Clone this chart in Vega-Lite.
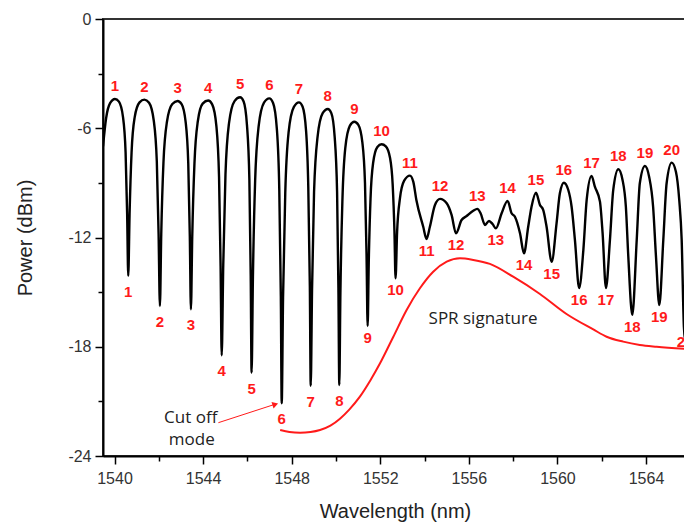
{
  "$schema": "https://vega.github.io/schema/vega-lite/v6.json",
  "width": 582,
  "height": 437,
  "autosize": "none",
  "padding": {"left": 103, "top": 19, "right": 0, "bottom": 67},
  "background": "white",
  "config": {"view": {"stroke": "#333", "strokeWidth": 2}},
  "datasets": {
    "spectrum": [
      {"w":1539.48,"p":-7.0},{"w":1539.62,"p":-5.45},{"w":1539.80,"p":-4.62},{"w":1540.02,"p":-4.39},
      {"w":1540.20,"p":-4.54},{"w":1540.38,"p":-5.36},{"w":1540.50,"p":-7.31},{"w":1540.57,"p":-10.71},{"w":1540.62,"p":-14.11},
      {"w":1540.68,"p":-10.72},{"w":1540.77,"p":-7.33},{"w":1540.91,"p":-5.40},{"w":1541.13,"p":-4.58},{"w":1541.35,"p":-4.43},
      {"w":1541.56,"p":-4.60},{"w":1541.77,"p":-5.56},{"w":1541.91,"p":-7.83},{"w":1541.99,"p":-11.79},{"w":1542.05,"p":-15.76},
      {"w":1542.11,"p":-11.82},{"w":1542.21,"p":-7.88},{"w":1542.37,"p":-5.63},{"w":1542.61,"p":-4.67},{"w":1542.85,"p":-4.5},
      {"w":1543.03,"p":-4.67},{"w":1543.21,"p":-5.64},{"w":1543.33,"p":-7.93},{"w":1543.40,"p":-11.94},{"w":1543.45,"p":-15.94},
      {"w":1543.51,"p":-11.93},{"w":1543.61,"p":-7.92},{"w":1543.76,"p":-5.63},{"w":1543.98,"p":-4.65},{"w":1544.23,"p":-4.48},
      {"w":1544.41,"p":-4.69},{"w":1544.60,"p":-5.88},{"w":1544.72,"p":-8.68},{"w":1544.79,"p":-13.57},{"w":1544.84,"p":-18.47},
      {"w":1544.91,"p":-13.51},{"w":1545.01,"p":-8.55},{"w":1545.17,"p":-5.72},{"w":1545.42,"p":-4.51},{"w":1545.67,"p":-4.30},
      {"w":1545.83,"p":-4.53},{"w":1545.98,"p":-5.81},{"w":1546.09,"p":-8.84},{"w":1546.15,"p":-14.13},{"w":1546.19,"p":-19.42},
      {"w":1546.25,"p":-14.15},{"w":1546.35,"p":-8.88},{"w":1546.51,"p":-5.87},{"w":1546.75,"p":-4.59},{"w":1546.99,"p":-4.36},
      {"w":1547.16,"p":-4.61},{"w":1547.33,"p":-6.03},{"w":1547.44,"p":-9.38},{"w":1547.51,"p":-15.24},{"w":1547.55,"p":-21.1},
      {"w":1547.61,"p":-15.32},{"w":1547.71,"p":-9.54},{"w":1547.86,"p":-6.23},{"w":1548.10,"p":-4.83},{"w":1548.33,"p":-4.58},
      {"w":1548.49,"p":-4.81},{"w":1548.65,"p":-6.14},{"w":1548.75,"p":-9.25},{"w":1548.82,"p":-14.69},{"w":1548.86,"p":-20.14},
      {"w":1548.92,"p":-14.82},{"w":1549.01,"p":-9.50},{"w":1549.17,"p":-6.46},{"w":1549.40,"p":-5.17},{"w":1549.63,"p":-4.94},
      {"w":1549.79,"p":-5.17},{"w":1549.94,"p":-6.46},{"w":1550.05,"p":-9.49},{"w":1550.11,"p":-14.79},{"w":1550.15,"p":-20.1},
      {"w":1550.20,"p":-15.04},{"w":1550.29,"p":-9.98},{"w":1550.42,"p":-7.09},{"w":1550.63,"p":-5.86},{"w":1550.83,"p":-5.64},
      {"w":1551.01,"p":-5.81},{"w":1551.19,"p":-6.76},{"w":1551.31,"p":-9.01},{"w":1551.38,"p":-12.93},{"w":1551.43,"p":-16.86},
      {"w":1551.48,"p":-13.37},{"w":1551.56,"p":-9.87},{"w":1551.68,"p":-7.88},{"w":1551.87,"p":-7.03},{"w":1552.06,"p":-6.88},
      {"w":1552.25,"p":-6.99},{"w":1552.44,"p":-7.62},{"w":1552.56,"p":-9.09},{"w":1552.64,"p":-11.66},{"w":1552.69,"p":-14.24},
      {"w":1552.76,"p":-11.70},{"w":1552.89,"p":-9.84},{"w":1553.08,"p":-8.88},{"w":1553.34,"p":-8.6},
      {"w":1553.49,"p":-8.93},{"w":1553.63,"p":-9.94},{"w":1553.94,"p":-11.41},{"w":1554.09,"p":-12.08},
      {"w":1554.24,"p":-11.41},{"w":1554.47,"p":-10.21},{"w":1554.70,"p":-9.88},
      {"w":1555.00,"p":-10.12},{"w":1555.22,"p":-10.76},{"w":1555.42,"p":-11.77},
      {"w":1555.67,"p":-11.04},{"w":1555.90,"p":-10.82},{"w":1556.20,"p":-10.53},{"w":1556.38,"p":-10.43},
      {"w":1556.53,"p":-10.67},{"w":1556.73,"p":-11.31},{"w":1556.91,"p":-11.09},{"w":1557.07,"p":-11.26},{"w":1557.22,"p":-11.5},
      {"w":1557.48,"p":-10.67},{"w":1557.75,"p":-9.99},{"w":1557.93,"p":-10.67},{"w":1558.08,"p":-10.86},{"w":1558.31,"p":-11.77},{"w":1558.49,"p":-12.87},
      {"w":1558.68,"p":-11.41},{"w":1558.83,"p":-10.31},{"w":1559.03,"p":-9.54},{"w":1559.21,"p":-10.21},{"w":1559.36,"p":-10.49},{"w":1559.51,"p":-11.41},{"w":1559.74,"p":-13.33},
      {"w":1559.96,"p":-11.22},{"w":1560.11,"p":-9.57},{"w":1560.29,"p":-8.99},{"w":1560.49,"p":-9.39},{"w":1560.64,"p":-10.31},{"w":1560.79,"p":-12.14},{"w":1560.98,"p":-14.77},
      {"w":1561.17,"p":-12.69},{"w":1561.32,"p":-9.94},{"w":1561.54,"p":-8.62},{"w":1561.69,"p":-9.21},{"w":1561.92,"p":-10.03},{"w":1562.04,"p":-11.77},{"w":1562.19,"p":-14.77},
      {"w":1562.37,"p":-12.14},{"w":1562.52,"p":-9.39},{"w":1562.75,"p":-8.25},{"w":1562.94,"p":-8.84},{"w":1563.09,"p":-10.31},{"w":1563.20,"p":-13.05},{"w":1563.38,"p":-16.25},
      {"w":1563.58,"p":-12.14},{"w":1563.72,"p":-9.02},{"w":1563.95,"p":-8.07},{"w":1564.14,"p":-8.66},{"w":1564.32,"p":-10.31},{"w":1564.45,"p":-13.05},{"w":1564.60,"p":-15.71},
      {"w":1564.78,"p":-12.14},{"w":1564.93,"p":-9.02},{"w":1565.16,"p":-7.89},{"w":1565.35,"p":-8.39},{"w":1565.50,"p":-9.94},{"w":1565.61,"p":-12.14},{"w":1565.71,"p":-16.9},{"w":1565.76,"p":-17.6}
    ],
    "spr": [
      {"w":1547.48,"p":-22.57},{"w":1547.9,"p":-22.68},{"w":1548.38,"p":-22.72},{"w":1548.85,"p":-22.68},
      {"w":1549.28,"p":-22.57},{"w":1549.75,"p":-22.33},{"w":1550.18,"p":-21.95},{"w":1550.6,"p":-21.45},
      {"w":1551.08,"p":-20.74},{"w":1551.55,"p":-19.85},{"w":1551.99,"p":-18.91},{"w":1552.59,"p":-17.45},
      {"w":1553.19,"p":-15.98},{"w":1553.79,"p":-14.79},{"w":1554.39,"p":-13.88},{"w":1555.0,"p":-13.33},
      {"w":1555.6,"p":-13.14},{"w":1556.2,"p":-13.23},{"w":1556.95,"p":-13.45},{"w":1558.0,"p":-14.15},
      {"w":1559.21,"p":-15.1},{"w":1560.41,"p":-16.2},{"w":1561.62,"p":-17.05},{"w":1562.22,"p":-17.45},
      {"w":1562.97,"p":-17.72},{"w":1563.72,"p":-17.9},{"w":1564.48,"p":-18.0},{"w":1565.76,"p":-18.12}
    ],
    "extrema": [
      {"n":1,"kind":"peak","w":1540.02,"p":-4.39},{"n":2,"kind":"peak","w":1541.35,"p":-4.43},
      {"n":3,"kind":"peak","w":1542.85,"p":-4.5},{"n":4,"kind":"peak","w":1544.23,"p":-4.48},
      {"n":5,"kind":"peak","w":1545.67,"p":-4.30},{"n":6,"kind":"peak","w":1546.99,"p":-4.36},
      {"n":7,"kind":"peak","w":1548.33,"p":-4.58},{"n":8,"kind":"peak","w":1549.63,"p":-4.94},
      {"n":9,"kind":"peak","w":1550.83,"p":-5.64},{"n":10,"kind":"peak","w":1552.06,"p":-6.88},
      {"n":11,"kind":"peak","w":1553.34,"p":-8.6},{"n":12,"kind":"peak","w":1554.70,"p":-9.88},
      {"n":13,"kind":"peak","w":1556.38,"p":-10.43},{"n":14,"kind":"peak","w":1557.75,"p":-9.99},
      {"n":15,"kind":"peak","w":1559.03,"p":-9.54},{"n":16,"kind":"peak","w":1560.29,"p":-8.99},
      {"n":17,"kind":"peak","w":1561.54,"p":-8.62},{"n":18,"kind":"peak","w":1562.75,"p":-8.25},
      {"n":19,"kind":"peak","w":1563.95,"p":-8.07},{"n":20,"kind":"peak","w":1565.16,"p":-7.89},
      {"n":1,"kind":"dip","w":1540.62,"p":-14.11},{"n":2,"kind":"dip","w":1542.05,"p":-15.76},
      {"n":3,"kind":"dip","w":1543.45,"p":-15.94},{"n":4,"kind":"dip","w":1544.84,"p":-18.47},
      {"n":5,"kind":"dip","w":1546.19,"p":-19.42},{"n":6,"kind":"dip","w":1547.55,"p":-21.1},
      {"n":7,"kind":"dip","w":1548.86,"p":-20.14},{"n":8,"kind":"dip","w":1550.15,"p":-20.1},
      {"n":9,"kind":"dip","w":1551.43,"p":-16.86},{"n":10,"kind":"dip","w":1552.69,"p":-14.24},
      {"n":11,"kind":"dip","w":1554.09,"p":-12.08},{"n":12,"kind":"dip","w":1555.42,"p":-11.77},
      {"n":13,"kind":"dip","w":1557.22,"p":-11.5},{"n":14,"kind":"dip","w":1558.49,"p":-12.87},
      {"n":15,"kind":"dip","w":1559.74,"p":-13.33},{"n":16,"kind":"dip","w":1560.98,"p":-14.77},
      {"n":17,"kind":"dip","w":1562.19,"p":-14.77},{"n":18,"kind":"dip","w":1563.38,"p":-16.25},
      {"n":19,"kind":"dip","w":1564.60,"p":-15.71},{"n":20,"kind":"dip","w":1565.76,"p":-17.1}
    ],
    "notes": [
      {"text":"Cut off","w":1543.44,"p":-21.93},
      {"text":"mode","w":1543.49,"p":-23.12},
      {"text":"SPR signature","w":1556.64,"p":-16.49}
    ],
    "arrow": [
      {"w":1544.69,"p":-22.17,"w2":1547.22,"p2":-21.17}
    ],
    "head": [
      {"w":1547.26,"p":-21.16}
    ]
  },
  "layer": [
    {
      "data": {"name": "spectrum"},
      "mark": {"type": "line", "color": "#000", "strokeWidth": 2.4, "interpolate": "monotone", "clip": true},
      "encoding": {
        "x": {"field": "w", "type": "quantitative",
          "scale": {"domain": [1539.48, 1565.76], "nice": false, "zero": false},
          "axis": {
            "title": "Wavelength (nm)",
            "values": [1540,1542,1544,1546,1548,1550,1552,1554,1556,1558,1560,1562,1564],
            "labelExpr": "datum.value % 4 === 0 ? toString(datum.value) : ''",
            "tickSize": {"condition": {"test": "datum.value % 4 === 0", "value": 8}, "value": 5},
            "grid": false, "labelOverlap": false, "labelFlush": false,
            "domainColor": "#000", "domainWidth": 2, "tickColor": "#000", "tickWidth": 1.5,
            "labelFont": "Liberation Sans", "labelFontSize": 16, "labelColor": "#333", "labelPadding": 6,
            "titleFont": "Liberation Sans", "titleFontSize": 20, "titleFontWeight": "normal", "titleColor": "#222",
            "titleX": 292, "titleY": 61, "titleBaseline": "alphabetic", "titleAlign": "center"
          }},
        "y": {"field": "p", "type": "quantitative",
          "scale": {"domain": [-24, 0], "nice": false, "zero": false},
          "axis": {
            "title": "Power (dBm)",
            "values": [-24,-21,-18,-15,-12,-9,-6,-3,0],
            "labelExpr": "datum.value % 6 === 0 ? toString(datum.value) : ''",
            "tickSize": {"condition": {"test": "datum.value % 6 === 0", "value": 8}, "value": 5},
            "grid": false, "labelOverlap": false, "labelFlush": false,
            "domainColor": "#000", "domainWidth": 2, "tickColor": "#000", "tickWidth": 1.5,
            "labelFont": "Liberation Sans", "labelFontSize": 16, "labelColor": "#333", "labelPadding": 4,
            "titleFont": "Liberation Sans", "titleFontSize": 20, "titleFontWeight": "normal", "titleColor": "#222",
            "titleX": -78, "titleY": 218.5, "titleAngle": -90, "titleBaseline": "middle", "titleAlign": "center"
          }}
      }
    },
    {
      "data": {"name": "spr"},
      "mark": {"type": "line", "color": "#ff1a1a", "strokeWidth": 2, "interpolate": "monotone", "clip": true},
      "encoding": {
        "x": {"field": "w", "type": "quantitative"},
        "y": {"field": "p", "type": "quantitative"}
      }
    },
    {
      "data": {"name": "extrema"},
      "transform": [{"filter": "datum.kind === 'peak'"}],
      "mark": {"type": "text", "color": "#ff1a1a", "font": "Liberation Sans", "fontWeight": "bold", "fontSize": 15, "baseline": "middle", "align": "center", "dy": -13},
      "encoding": {
        "x": {"field": "w", "type": "quantitative"},
        "y": {"field": "p", "type": "quantitative"},
        "text": {"field": "n", "type": "nominal"}
      }
    },
    {
      "data": {"name": "extrema"},
      "transform": [{"filter": "datum.kind === 'dip' && datum.n <= 8"}],
      "mark": {"type": "text", "color": "#ff1a1a", "font": "Liberation Sans", "fontWeight": "bold", "fontSize": 15, "baseline": "middle", "align": "center", "dy": 16},
      "encoding": {
        "x": {"field": "w", "type": "quantitative"},
        "y": {"field": "p", "type": "quantitative"},
        "text": {"field": "n", "type": "nominal"}
      }
    },
    {
      "data": {"name": "extrema"},
      "transform": [{"filter": "datum.kind === 'dip' && datum.n > 8"}],
      "mark": {"type": "text", "color": "#ff1a1a", "font": "Liberation Sans", "fontWeight": "bold", "fontSize": 15, "baseline": "middle", "align": "center", "dy": 12},
      "encoding": {
        "x": {"field": "w", "type": "quantitative"},
        "y": {"field": "p", "type": "quantitative"},
        "text": {"field": "n", "type": "nominal"}
      }
    },
    {
      "data": {"name": "arrow"},
      "mark": {"type": "rule", "color": "#ff1a1a", "strokeWidth": 1},
      "encoding": {
        "x": {"field": "w", "type": "quantitative"},
        "y": {"field": "p", "type": "quantitative"},
        "x2": {"field": "w2"},
        "y2": {"field": "p2"}
      }
    },
    {
      "data": {"name": "head"},
      "mark": {"type": "point", "shape": "triangle-right", "filled": true, "color": "#ff1a1a", "size": 45, "angle": -18, "opacity": 1},
      "encoding": {
        "x": {"field": "w", "type": "quantitative"},
        "y": {"field": "p", "type": "quantitative"}
      }
    },
    {
      "data": {"name": "notes"},
      "mark": {"type": "text", "color": "#222", "font": "Open Sans", "fontSize": 17, "baseline": "middle", "align": "center"},
      "encoding": {
        "x": {"field": "w", "type": "quantitative"},
        "y": {"field": "p", "type": "quantitative"},
        "text": {"field": "text", "type": "nominal"}
      }
    }
  ]
}
